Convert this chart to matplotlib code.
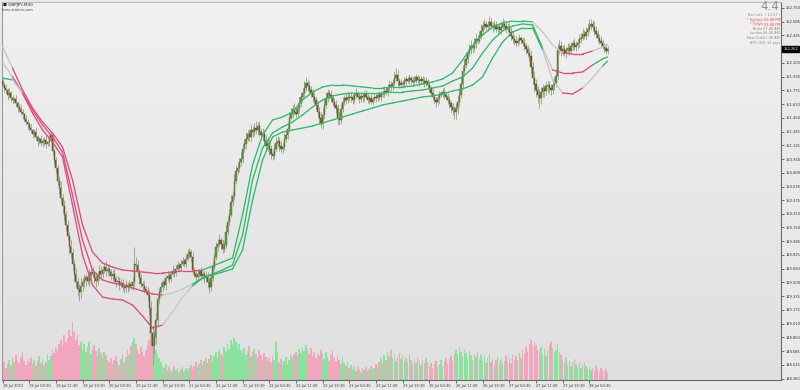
import matplotlib
matplotlib.use("Agg")
import matplotlib.pyplot as plt
import matplotlib.transforms as mtransforms
import numpy as np
from matplotlib.collections import LineCollection

# GBPJPY M30 bars, 18 Jul 2021 -> 28 Jul 2021
first_open = 151.88
closes = [
    151.84, 151.80, 151.78, 151.72, 151.74, 151.68, 151.66, 151.67, 151.62, 151.58, 151.55, 151.52, 151.49, 151.44, 151.40, 151.37,
    151.33, 151.30, 151.26, 151.28, 151.22, 151.18, 151.20, 151.15, 151.17, 151.19, 151.14, 151.16, 151.21, 151.24, 151.05, 150.95,
    150.85, 150.70, 150.62, 150.50, 150.40, 150.30, 150.18, 150.05, 149.92, 149.85, 149.72, 149.60, 149.50, 149.42, 149.38, 149.46,
    149.50, 149.53, 149.56, 149.52, 149.58, 149.62, 149.60, 149.55, 149.52, 149.57, 149.63, 149.60, 149.65, 149.68, 149.64, 149.66,
    149.62, 149.58, 149.60, 149.54, 149.50, 149.52, 149.47, 149.49, 149.45, 149.43, 149.47, 149.44, 149.48, 149.46, 149.50, 149.72,
    149.70, 149.62, 149.55, 149.48, 149.46, 149.42, 149.40, 149.35, 149.20, 148.90, 148.75, 148.85, 149.05, 149.30, 149.38, 149.45,
    149.50, 149.47, 149.55, 149.58, 149.54, 149.60, 149.64, 149.61, 149.66, 149.70, 149.67, 149.72, 149.75, 149.72, 149.78, 149.83,
    149.86, 149.80, 149.65, 149.60, 149.56, 149.60, 149.63, 149.58, 149.60, 149.55, 149.58, 149.50, 149.45, 149.55, 149.68, 149.80,
    149.92, 149.96, 150.00, 149.95, 149.90, 149.94, 150.10, 150.22, 150.30, 150.45, 150.52, 150.70, 150.82, 150.86, 150.92, 150.96,
    151.08, 151.14, 151.20, 151.26, 151.22, 151.30, 151.28, 151.33, 151.30, 151.35, 151.28, 151.24, 151.26, 151.18, 151.12, 151.15,
    151.08, 151.02, 151.00, 151.08, 151.15, 151.18, 151.12, 151.08, 151.10, 151.20, 151.25, 151.32, 151.45, 151.50, 151.55, 151.52,
    151.50, 151.56, 151.62, 151.70, 151.74, 151.80, 151.86, 151.82, 151.78, 151.74, 151.70, 151.66, 151.60, 151.52, 151.45, 151.38,
    151.48, 151.60, 151.68, 151.74, 151.72, 151.68, 151.64, 151.60, 151.56, 151.45, 151.42, 151.55, 151.64, 151.68, 151.66, 151.70,
    151.68, 151.70, 151.66, 151.72, 151.74, 151.70, 151.67, 151.71, 151.69, 151.73, 151.70, 151.66, 151.68, 151.64, 151.67, 151.70,
    151.68, 151.72, 151.70, 151.74, 151.73, 151.77, 151.75, 151.80, 151.84, 151.82, 151.86, 151.92, 151.96, 151.88, 151.84, 151.86,
    151.85, 151.88, 151.91, 151.89, 151.92, 151.90, 151.87, 151.89, 151.93, 151.90, 151.88, 151.91, 151.89, 151.86, 151.88, 151.84,
    151.80, 151.74, 151.70, 151.66, 151.64, 151.68, 151.72, 151.74, 151.76, 151.72, 151.70, 151.66, 151.62, 151.58, 151.54, 151.52,
    151.56, 151.64, 151.72, 151.85, 152.00, 152.08, 152.15, 152.22, 152.26, 152.30, 152.28, 152.33, 152.38, 152.36, 152.42, 152.48,
    152.54, 152.56, 152.52, 152.55, 152.58, 152.54, 152.52, 152.55, 152.50, 152.52, 152.49, 152.53, 152.56, 152.54, 152.50, 152.52,
    152.46, 152.42, 152.38, 152.36, 152.33, 152.36, 152.39, 152.37, 152.34, 152.30, 152.26, 152.22, 152.18, 152.05, 151.92, 151.85,
    151.78, 151.72, 151.68, 151.75, 151.80, 151.77, 151.82, 151.84, 151.80, 151.78, 151.84, 151.86, 151.95, 152.25, 152.30, 152.24,
    152.26, 152.22, 152.25, 152.28, 152.24, 152.30, 152.33, 152.29, 152.31, 152.34, 152.38, 152.40, 152.44, 152.42, 152.46, 152.50,
    152.54, 152.56, 152.52, 152.48, 152.44, 152.40, 152.36, 152.33, 152.30, 152.28, 152.24, 152.262,
]

# upper / lower shadow lengths in pips
wick_up = [
    4, 3, 5, 2, 6, 3, 4, 2, 5, 3, 4, 6, 3, 2, 4, 3,
    3, 5, 2, 4, 6, 3, 2, 5, 4, 3, 6, 2, 5, 4, 3, 4,
    3, 4, 6, 8, 5, 7, 4, 6, 5, 8, 6, 4, 7, 5, 6, 9,
    5, 7, 4, 6, 8, 5, 6, 4, 7, 5, 8, 6, 4, 5, 7, 6,
    6, 4, 5, 7, 3, 5, 4, 6, 5, 4, 6, 3, 5, 4, 6, 20,
    8, 6, 4, 5, 3, 6, 4, 5, 6, 8, 10, 7, 9, 6, 5, 4,
    3, 4, 2, 5, 3, 4, 6, 3, 4, 5, 3, 4, 5, 3, 4, 6,
    5, 4, 6, 3, 5, 4, 3, 5, 4, 3, 6, 4, 5, 6, 7, 5,
    6, 5, 7, 4, 6, 5, 8, 6, 7, 9, 6, 8, 7, 6, 5, 8,
    7, 6, 8, 5, 6, 7, 5, 6, 8, 5, 6, 4, 7, 5, 6, 5,
    6, 5, 4, 6, 7, 5, 4, 6, 5, 7, 6, 8, 7, 6, 5, 7,
    6, 8, 7, 5, 6, 9, 7, 5, 6, 4, 5, 6, 4, 5, 6, 7,
    8, 6, 7, 5, 4, 6, 5, 4, 6, 5, 7, 6, 5, 4, 6, 5,
    4, 5, 3, 4, 6, 3, 4, 5, 3, 4, 5, 3, 4, 5, 3, 4,
    3, 4, 5, 3, 4, 5, 4, 5, 6, 4, 5, 8, 8, 5, 4, 5,
    4, 5, 3, 4, 5, 3, 4, 5, 4, 3, 5, 4, 3, 4, 5, 3,
    4, 3, 5, 4, 3, 4, 5, 3, 4, 5, 3, 4, 5, 3, 4, 5,
    6, 7, 8, 9, 7, 6, 8, 5, 6, 7, 5, 6, 7, 5, 6, 8,
    5, 6, 4, 5, 7, 5, 4, 6, 5, 4, 5, 6, 7, 5, 4, 5,
    5, 6, 4, 5, 6, 4, 5, 3, 4, 5, 4, 5, 6, 7, 6, 8,
    6, 5, 7, 6, 5, 4, 6, 5, 4, 5, 6, 7, 8, 9, 7, 6,
    5, 6, 4, 5, 6, 5, 4, 6, 5, 4, 6, 5, 7, 5, 6, 7,
    8, 6, 5, 7, 6, 5, 4, 6, 5, 4, 5, 4,
]
wick_down = [
    3, 5, 4, 6, 3, 4, 5, 3, 4, 6, 3, 4, 5, 3, 4, 5,
    4, 3, 5, 4, 3, 6, 4, 3, 5, 4, 5, 3, 4, 5, 4, 6,
    6, 5, 7, 6, 8, 6, 7, 5, 8, 6, 7, 9, 6, 8, 10, 7,
    6, 5, 7, 4, 6, 5, 4, 6, 7, 5, 4, 6, 5, 4, 6, 5,
    4, 5, 6, 4, 5, 3, 6, 4, 5, 6, 4, 5, 3, 4, 5, 6,
    6, 5, 7, 4, 6, 5, 4, 6, 8, 14, 23, 10, 8, 7, 6, 5,
    5, 4, 6, 3, 5, 4, 3, 5, 4, 3, 5, 4, 3, 4, 5, 3,
    4, 5, 6, 4, 5, 3, 4, 5, 4, 6, 5, 7, 8, 5, 4, 3,
    4, 5, 3, 6, 5, 4, 3, 4, 5, 3, 4, 5, 3, 4, 5, 4,
    5, 4, 6, 3, 5, 4, 6, 5, 4, 6, 5, 4, 6, 5, 7, 6,
    7, 6, 5, 4, 3, 5, 6, 4, 5, 3, 4, 5, 4, 3, 5, 4,
    4, 3, 5, 4, 3, 4, 3, 5, 4, 5, 6, 5, 6, 7, 6, 5,
    6, 4, 3, 4, 5, 4, 5, 4, 5, 7, 6, 4, 3, 4, 5, 4,
    3, 4, 5, 3, 4, 3, 4, 3, 5, 4, 3, 4, 5, 3, 4, 3,
    4, 3, 4, 5, 3, 4, 3, 4, 3, 5, 4, 3, 4, 5, 4, 3,
    3, 4, 5, 3, 4, 5, 3, 4, 3, 4, 5, 3, 4, 5, 3, 4,
    4, 5, 4, 5, 6, 4, 5, 3, 4, 5, 4, 5, 6, 7, 6, 8,
    8, 6, 5, 4, 5, 6, 4, 5, 4, 5, 6, 4, 5, 4, 3, 4,
    4, 5, 3, 4, 5, 4, 5, 3, 4, 5, 4, 5, 3, 4, 5, 4,
    4, 5, 4, 5, 4, 3, 4, 5, 4, 5, 6, 5, 6, 7, 8, 9,
    8, 9, 12, 7, 6, 7, 5, 6, 7, 6, 5, 6, 5, 4, 5, 6,
    5, 4, 6, 4, 5, 4, 5, 4, 5, 4, 5, 4, 3, 4, 5, 4,
    4, 5, 4, 5, 4, 5, 4, 5, 4, 5, 4, 3,
]

# tick volume (x25 ticks)
volumes = [
    14, 18, 12, 16, 20, 15, 22, 18, 25, 20, 17, 23, 28, 19, 15, 21,
    18, 22, 16, 20, 14, 19, 24, 17, 21, 15, 18, 26, 20, 24, 30, 27,
    32, 28, 36, 40, 34, 45, 38, 42, 50, 44, 58, 48, 40, 46, 35, 38,
    30, 36, 28, 33, 38, 26, 31, 35, 29, 24, 32, 27, 22, 28, 25, 20,
    18, 22, 16, 20, 24, 19, 15, 21, 26, 18, 23, 30, 25, 34, 38, 42,
    36, 30, 26, 33, 28, 24, 30, 35, 40, 46, 44, 38, 30, 26, 22, 18,
    14, 12, 16, 10, 13, 9, 11, 14, 10, 12, 8, 11, 13, 9, 12, 10,
    12, 15, 11, 14, 18, 13, 16, 20, 15, 19, 22, 17, 21, 25, 18, 24,
    28, 22, 30, 26, 24, 33, 29, 36, 31, 40, 35, 42, 38, 32, 36, 30,
    27, 32, 25, 29, 34, 24, 28, 31, 26, 22, 30, 25, 20, 27, 23, 19,
    22, 18, 24, 20, 38, 28, 17, 21, 15, 19, 23, 16, 20, 25, 22, 26,
    28, 24, 31, 27, 33, 29, 35, 30, 26, 32, 24, 28, 22, 27, 25, 30,
    26, 21, 28, 23, 19, 25, 30, 22, 18, 24, 20, 16, 22, 17, 14, 19,
    12, 15, 10, 13, 9, 14, 11, 8, 12, 10, 13, 9, 11, 14, 10, 12,
    16, 13, 18, 22, 17, 25, 20, 28, 24, 30, 22, 26, 19, 23, 27, 21,
    24, 19, 22, 18, 25, 20, 16, 21, 17, 23, 19, 15, 20, 17, 22, 18,
    14, 17, 12, 16, 19, 13, 15, 20, 14, 18, 22, 16, 21, 24, 19, 26,
    30, 26, 33, 28, 24, 31, 27, 22, 29, 25, 20, 26, 23, 28, 21, 25,
    19, 24, 17, 22, 26, 18, 21, 15, 20, 23, 17, 21, 16, 19, 24, 18,
    22, 17, 25, 20, 24, 19, 27, 22, 30, 26, 33, 28, 36, 40, 34, 38,
    35, 30, 28, 33, 26, 31, 24, 29, 35, 38, 32, 27, 30, 36, 28, 25,
    20, 17, 22, 15, 19, 14, 18, 21, 16, 13, 17, 12, 15, 18, 14, 11,
    13, 10, 12, 9, 14, 11, 8, 12, 10, 9, 11, 8,
]

# smoothed band lines, sampled every 6 bars (last sample at the final bar)
band_bars = list(range(0, 361, 6)) + [363]
band_top = [
    152.288, 152.039, 151.779, 151.565, 151.400, 151.269, 151.104, 150.712, 150.179, 149.859,
    149.729, 149.681, 149.646, 149.634, 149.622, 149.611, 149.611, 149.622, 149.634, 149.634,
    149.646, 149.693, 149.741, 149.788, 150.298, 150.890, 151.245, 151.423, 151.459, 151.518,
    151.660, 151.755, 151.814, 151.838, 151.838, 151.826, 151.814, 151.802, 151.802, 151.814,
    151.814, 151.826, 151.850, 151.873, 151.909, 151.980, 152.134, 152.300, 152.430, 152.525,
    152.572, 152.596, 152.596, 152.584, 152.466, 152.312, 152.217, 152.205, 152.205, 152.241,
    152.288, 152.312,
]
band_mid = [
    152.110, 151.933, 151.743, 151.542, 151.364, 151.222, 151.044, 150.535, 150.001, 149.646,
    149.528, 149.492, 149.468, 149.433, 149.397, 149.362, 149.350, 149.373, 149.421, 149.480,
    149.551, 149.599, 149.646, 149.705, 150.061, 150.712, 151.092, 151.269, 151.340, 151.400,
    151.483, 151.577, 151.660, 151.708, 151.731, 151.743, 151.743, 151.743, 151.743, 151.755,
    151.755, 151.767, 151.779, 151.802, 151.826, 151.885, 151.933, 152.039, 152.217, 152.371,
    152.478, 152.537, 152.561, 152.549, 152.276, 152.016, 151.980, 151.980, 151.992, 152.075,
    152.146, 152.170,
]
band_low = [
    151.921, 151.897, 151.743, 151.506, 151.305, 151.163, 150.985, 150.416, 149.824, 149.468,
    149.326, 149.302, 149.291, 149.231, 149.101, 148.959, 148.994, 149.148, 149.326, 149.456,
    149.551, 149.587, 149.622, 149.658, 149.883, 150.475, 150.949, 151.222, 151.281, 151.305,
    151.328, 151.352, 151.388, 151.423, 151.459, 151.494, 151.530, 151.565, 151.601, 151.625,
    151.648, 151.672, 151.696, 151.708, 151.731, 151.767, 151.790, 151.838, 151.933, 152.158,
    152.347, 152.466, 152.513, 152.513, 152.253, 151.897, 151.743, 151.731, 151.802, 151.921,
    152.063, 152.122,
]
# slope state of each line: 1 up, -1 down, 0 flat
trend_top = [0] + [-1] * 19 + [1] * 33 + [0] * 3 + [-1] * 3 + [0] * 3
trend_mid = [0] + [-1] * 15 + [0] * 3 + [1] * 35 + [0] + [-1] * 4 + [1] * 3
trend_low = [1, 0] + [-1] * 14 + [0] * 3 + [1] * 35 + [0] * 2 + [-1] * 2 + [0] * 2 + [1] * 2

time_labels = [
    "18 Jul 2021", "19 Jul 03:30", "19 Jul 11:30", "19 Jul 19:30", "20 Jul 03:30",
    "20 Jul 11:30", "20 Jul 19:30", "21 Jul 03:30", "21 Jul 11:30", "21 Jul 19:30",
    "22 Jul 03:30", "22 Jul 11:30", "22 Jul 19:30", "23 Jul 03:30", "23 Jul 11:30",
    "23 Jul 19:30", "26 Jul 03:30", "26 Jul 11:30", "26 Jul 19:30", "27 Jul 03:30",
    "27 Jul 11:30", "27 Jul 19:30", "28 Jul 03:30",
]
price_ticks = [
    152.750, 152.585, 152.425, 152.100, 151.935, 151.775, 151.610, 151.450, 151.285,
    151.125, 150.960, 150.800, 150.635, 150.475, 150.310, 150.150, 149.985, 149.825,
    149.660, 149.500, 149.335, 149.175, 149.010, 148.850, 148.685, 148.525, 148.360,
]
last_price = 152.262

info_rows = [
    ("Bar Left:", "( 13:27 )", "#8a8a8a"),
    ("* Sydney", "03:48 PM", "#ff3b3b"),
    ("* Tokyo", "02:48 PM", "#ff3b3b"),
    ("Berlin", "07:48 AM", "#8a8a8a"),
    ("London", "06:48 AM", "#8a8a8a"),
    ("New York", "01:48 AM", "#8a8a8a"),
]

TREND_COLORS = {1: "#2dbb6c", -1: "#e04a7c", 0: "#c6c6c6"}


def draw_candles(ax):
    c = np.array(closes)
    o = np.concatenate([[first_open], c[:-1]])
    hi = np.maximum(o, c) + np.array(wick_up) / 100.0
    lo = np.minimum(o, c) - np.array(wick_down) / 100.0
    idx = np.arange(len(c))

    ax.vlines(idx, lo, hi, color="#8c9a7c", linewidth=0.55, zorder=3)

    up = c >= o
    body = np.maximum(np.abs(c - o), 0.006)
    bottom = np.minimum(o, c)
    ax.bar(idx[up], body[up], bottom=bottom[up], width=0.75,
           color="#4fa040", edgecolor="#6a5a26", linewidth=0.3, zorder=4)
    ax.bar(idx[~up], body[~up], bottom=bottom[~up], width=0.75,
           color="#6f6a2c", edgecolor="#5e4b1f", linewidth=0.3, zorder=4)
    return up


def draw_band(ax, values, states):
    pts = np.column_stack([band_bars, values])
    segs = [pts[k:k + 2] for k in range(len(pts) - 1)]
    colors = [TREND_COLORS[s] for s in states[:-1]]
    lc = LineCollection(segs, colors=colors, linewidths=0.95,
                        capstyle="round", joinstyle="round", zorder=5)
    ax.add_collection(lc)


def main():
    fig = plt.figure(figsize=(8, 3.9), dpi=100, facecolor="#e9e9e9")
    rect = [2 / 800, 10 / 390, 779 / 800, 378 / 390]

    bg = fig.add_axes(rect, zorder=0)
    grad = np.linspace(0, 1, 256).reshape(-1, 1)
    top_c = np.array([0.945, 0.945, 0.945])
    bot_c = np.array([0.875, 0.875, 0.875])
    img = top_c + (bot_c - top_c) * grad[:, :, None]
    bg.imshow(img, aspect="auto", extent=(0, 1, 0, 1))
    bg.set_axis_off()

    vax = fig.add_axes(rect, zorder=1)
    vax.patch.set_visible(False)
    vax.set_axis_off()

    ax = fig.add_axes(rect, zorder=2)
    ax.patch.set_visible(False)

    xlim = (-0.3, 467.0)
    ax.set_xlim(*xlim)
    vax.set_xlim(*xlim)
    ax.set_ylim(148.343, 152.821)

    up = draw_candles(ax)

    vol_colors = np.where(up, "#86e39a", "#f2a3bb")
    vax.bar(np.arange(len(volumes)), volumes, width=0.9, color=vol_colors,
            linewidth=0, alpha=0.95)
    vax.set_ylim(0, 378)

    draw_band(ax, band_top, trend_top)
    draw_band(ax, band_mid, trend_mid)
    draw_band(ax, band_low, trend_low)

    # axes frame and scales
    for side, spine in ax.spines.items():
        spine.set_color("#6a6a6a")
        spine.set_linewidth(0.8)
    ax.spines["top"].set_color("#bdbdbd")
    ax.spines["left"].set_color("#9a9a9a")

    ax.yaxis.tick_right()
    ax.set_yticks(price_ticks)
    ax.set_yticklabels([f"{p:.3f}" for p in price_ticks])
    ax.tick_params(axis="y", labelsize=2.6, length=2, width=0.5,
                   colors="#333333", pad=1.5)

    ax.set_xticks(range(0, 16 * len(time_labels), 16))
    ax.set_xticklabels(time_labels, ha="left")
    ax.tick_params(axis="x", labelsize=2.6, length=2, width=0.5,
                   colors="#333333", pad=0.8)

    # current price marker
    trans = mtransforms.blended_transform_factory(ax.transAxes, ax.transData)
    ax.text(1.003, last_price, f"{last_price:.3f}", transform=trans,
            ha="left", va="center", fontsize=2.6, color="white",
            bbox=dict(boxstyle="square,pad=0.35", facecolor="black",
                      edgecolor="black"), zorder=10, clip_on=False)

    # symbol header
    fig.text(3 / 800, 1 - 5 / 390, "■ GBPJPY,M30", fontsize=3.0,
             color="#222222", ha="left", va="center")
    fig.text(2 / 800, 1 - 10 / 390, "forex-station.com", fontsize=2.5,
             color="#444444", ha="left", va="center")

    # info panel
    fig.text(779 / 800, 1 - 7 / 390, "4.4", fontsize=8.5, color="#8c8c8c",
             ha="right", va="center")
    row_y = [15, 20, 24.5, 29, 33.5, 38]
    for (label, value, color), y in zip(info_rows, row_y):
        fig.text(763 / 800, 1 - y / 390, label, fontsize=2.5, color=color,
                 ha="right", va="center")
        fig.text(780 / 800, 1 - y / 390, value, fontsize=2.5, color=color,
                 ha="right", va="center")
    fig.text(780 / 800, 1 - 43 / 390, "ATR (20): 21 pips", fontsize=2.5,
             color="#8a8a8a", ha="right", va="center")

    fig.savefig("out.png", dpi=100, facecolor=fig.get_facecolor())
    plt.close(fig)


if __name__ == "__main__":
    main()
